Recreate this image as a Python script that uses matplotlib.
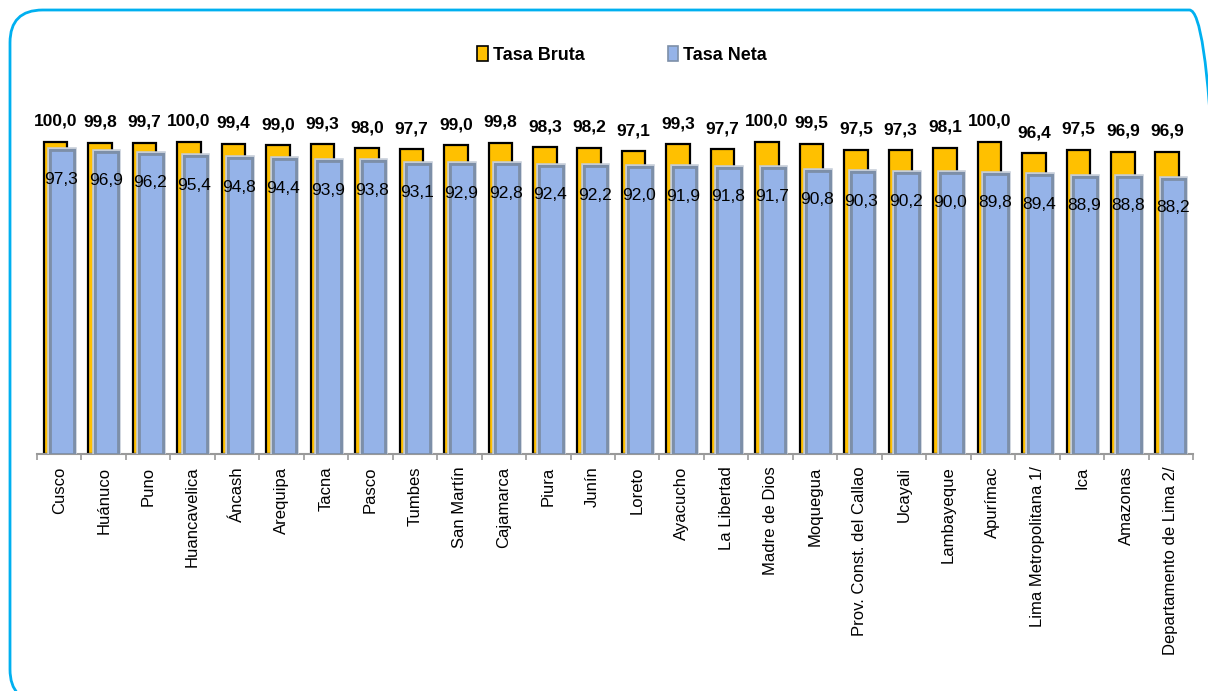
import matplotlib.pyplot as plt
import numpy as np
from matplotlib.patches import FancyBboxPatch, Patch
import matplotlib.patheffects as pe

# Data
regiones = ['Cusco', 'Huánuco', 'Puno', 'Huancavelica', 'Áncash', 'Arequipa', 'Tacna',
            'Pasco', 'Tumbes', 'San Martín', 'Cajamarca', 'Piura', 'Junín', 'Loreto',
            'Ayacucho', 'La Libertad', 'Madre de Dios', 'Moquegua',
            'Prov. Const. del Callao', 'Ucayali', 'Lambayeque', 'Apurímac',
            'Lima Metropolitana 1/', 'Ica', 'Amazonas', 'Departamento de Lima 2/']
tasa_bruta = [100.0, 99.8, 99.7, 100.0, 99.4, 99.0, 99.3, 98.0, 97.7, 99.0, 99.8, 98.3, 98.2,
              97.1, 99.3, 97.7, 100.0, 99.5, 97.5, 97.3, 98.1, 100.0, 96.4, 97.5, 96.9, 96.9]
tasa_neta = [97.3, 96.9, 96.2, 95.4, 94.8, 94.4, 93.9, 93.8, 93.1, 92.9, 92.8, 92.4, 92.2,
             92.0, 91.9, 91.8, 91.7, 90.8, 90.3, 90.2, 90.0, 89.8, 89.4, 88.9, 88.8, 88.2]

fam = ['Liberation Sans', 'DejaVu Sans']
plt.rcParams['font.family'] = fam

W, H = 1208, 691
fig = plt.figure(figsize=(W / 100, H / 100), dpi=100)

# rounded cyan frame (right and bottom sides run past the image edge)
frame = FancyBboxPatch((10 / W, 1 - 702 / H), 1212 / W, 692 / H,
                       boxstyle='round,pad=0,rounding_size=0.027',
                       transform=fig.transFigure, fill=False,
                       edgecolor='#00B0F0', linewidth=2, mutation_aspect=W / H)
fig.patches.append(frame)

ax = fig.add_axes([37 / W, 1 - 454 / H, 1156 / W, (454 - 105) / H])
ax.set_xlim(0, len(regiones))
ax.set_ylim(0, (454 - 105) / 3.12)

x = np.arange(len(regiones)) + 0.5
w = 0.53
b1 = ax.bar(x - 0.08, tasa_bruta, w, color='#FFC000', edgecolor='black', linewidth=1.6,
            zorder=2)
b2 = ax.bar(x + 0.065, tasa_neta, w, color='#95B3E8', edgecolor='#7D8FA8', linewidth=2,
            zorder=3)
for p in b2:
    p.set_path_effects([pe.withStroke(linewidth=4, foreground='#c4ccd8'), pe.Normal()])

for xi, v in zip(x - 0.08, tasa_bruta):
    ax.annotate(f'{v:.1f}'.replace('.', ','), (xi, v), xytext=(0, 13),
                textcoords='offset pixels', ha='center', va='bottom',
                fontsize=12.5, fontweight='bold')
for xi, v in zip(x + 0.065, tasa_neta):
    ax.annotate(f'{v:.1f}'.replace('.', ','), (xi, v), xytext=(-1, -29),
                textcoords='offset pixels', ha='center', va='center',
                fontsize=12.5, zorder=5)

ax.set_xticks(np.arange(len(regiones) + 1), minor=False)
ax.set_xticklabels([])
ax.set_xticks(x, minor=True)
ax.set_xticklabels(regiones, minor=True, rotation=90, fontsize=12, va='top', ha='center')
ax.tick_params(axis='x', which='major', length=4.5, color='#999999', width=1.2)
ax.tick_params(axis='x', which='minor', length=0, pad=9)
ax.set_yticks([])
for s in ['left', 'right', 'top']:
    ax.spines[s].set_visible(False)
ax.spines['bottom'].set_color('#999999')
ax.spines['bottom'].set_linewidth(1.5)

handles = [Patch(facecolor='#FFC000', edgecolor='black', linewidth=1.2, label='Tasa Bruta'),
           Patch(facecolor='#95B3E8', edgecolor='#7D8FA8', linewidth=1.2, label='Tasa Neta')]
fig.legend(handles=handles, loc='center', bbox_to_anchor=(622 / W, 1 - 55 / H), ncol=2,
           frameon=False, handlelength=0.6, handleheight=0.9, handletextpad=0.25,
           columnspacing=4.6, prop={'family': fam, 'weight': 'bold', 'size': 13})

fig.savefig('out.png', dpi=100)
